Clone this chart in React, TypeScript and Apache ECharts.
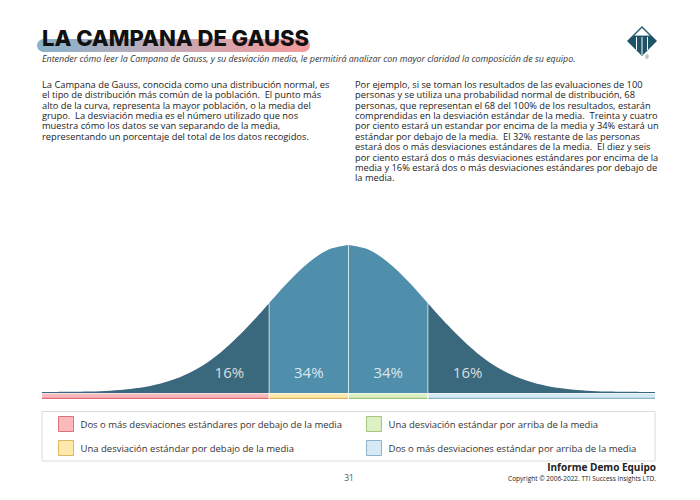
import React, { useEffect, useRef } from "react";
import * as echarts from "echarts";

// ---- data ----
const sigmaX = [-3.86, -3.5, -3.25, -3, -2.75, -2.5, -2.25, -2, -1.75, -1.5, -1.25, -1, -0.75, -0.5, -0.25, 0,
  0.25, 0.5, 0.75, 1, 1.25, 1.5, 1.75, 2, 2.25, 2.5, 2.75, 3, 3.25, 3.5, 3.86];
const curveY = [0.006, 0.008, 0.01, 0.016, 0.027, 0.047, 0.082, 0.137, 0.217, 0.326, 0.459, 0.607, 0.755, 0.882, 0.969, 1.0,
  0.969, 0.882, 0.755, 0.607, 0.459, 0.326, 0.217, 0.137, 0.082, 0.047, 0.027, 0.016, 0.01, 0.008, 0.006];
const bandEdges = [-3.86, -1, 0, 1, 3.86];
const bandPercents = ["16%", "34%", "34%", "16%"];
const bandLabelPos = [-1.5, -0.5, 0.5, 1.5];
const bandNames = [
  "Dos o más desviaciones estándares por debajo de la media",
  "Una desviación estándar por debajo de la media",
  "Una desviación estándar por arriba de la media",
  "Dos o más desviaciones estándar por arriba de la media",
];
const bandFill = ["#fbb9bb", "#fde9a9", "#ddefc4", "#d6e9f4"];
const bandBorder = ["#e0707a", "#d9b862", "#a6c67c", "#8fb3c9"];
const curveColors = ["#3a687c", "#508fac", "#508fac", "#3a687c"];

const leftPara = [
  "La Campana de Gauss, conocida como una distribución normal, es",
  "el tipo de distribución más común de la población.  El punto más",
  "alto de la curva, representa la mayor población, o la media del",
  "grupo.  La desviación media es el número utilizado que nos",
  "muestra cómo los datos se van separando de la media,",
  "representando un porcentaje del total de los datos recogidos.",
];
const rightPara = [
  "Por ejemplo, si se toman los resultados de las evaluaciones de 100",
  "personas y se utiliza una probabilidad normal de distribución, 68",
  "personas, que representan el 68 del 100% de los resultados, estarán",
  "comprendidas en la desviación estándar de la media.  Treinta y cuatro",
  "por ciento estará un estandar por encima de la media y 34% estará un",
  "estándar por debajo de la media.  El 32% restante de las personas",
  "estará dos o más desviaciones estándares de la media.  El diez y seis",
  "por ciento estará dos o más desviaciones estándares por encima de la",
  "media y 16% estará dos o más desviaciones estándares por debajo de",
  "la media.",
];

const FONT = "'Open Sans', 'Noto Sans', sans-serif";

export default function App() {
  const ref = useRef<HTMLDivElement>(null);
  useEffect(() => {
    if (!ref.current) return;
    const chart = echarts.init(ref.current, undefined, { renderer: "svg" });

    const pts = sigmaX.map((x, i) => [x, curveY[i]] as [number, number]);
    const segSeries = [0, 1, 2, 3].map((k) => {
      const lo = bandEdges[k], hi = bandEdges[k + 1];
      return {
        type: "line",
        xAxisIndex: 0,
        yAxisIndex: 0,
        smooth: 0.35,
        showSymbol: false,
        silent: true,
        lineStyle: { width: 0 },
        areaStyle: { color: curveColors[k], opacity: 1 },
        data: pts.filter((p) => p[0] >= lo - 1e-9 && p[0] <= hi + 1e-9),
      };
    });
    const dividers = [-1, 0, 1].map((d) => ({
      type: "line",
      xAxisIndex: 0,
      yAxisIndex: 0,
      showSymbol: false,
      silent: true,
      lineStyle: { width: 1, color: "rgba(235,243,247,0.75)" },
      data: [[d, 0], [d, curveY[sigmaX.indexOf(d)]]],
      z: 3,
    }));
    const labels = {
      type: "scatter",
      xAxisIndex: 0,
      yAxisIndex: 0,
      symbolSize: 1,
      itemStyle: { color: "transparent" },
      z: 4,
      label: {
        show: true,
        position: "inside",
        formatter: (p: any) => p.name,
        color: "#ffffff",
        fontSize: 15,
        fontFamily: FONT,
      },
      data: bandLabelPos.map((x, i) => ({ name: bandPercents[i], value: [x, 0.14] })),
    };
    const strips = [0, 1, 2, 3].map((k) => ({
      type: "custom",
      name: bandNames[k],
      xAxisIndex: 1,
      yAxisIndex: 1,
      itemStyle: { color: bandFill[k], borderColor: bandBorder[k], borderWidth: 1 },
      renderItem: (params: any, api: any) => {
        const a = api.coord([api.value(0), 1]);
        const b = api.coord([api.value(1), 0]);
        const x0 = a[0] + (k === 0 ? 0 : 0.5);
        const x1 = b[0] - (k === 3 ? 0 : 0.5);
        return {
          type: "group",
          children: [
            { type: "rect", shape: { x: x0, y: a[1], width: x1 - x0, height: b[1] - a[1] }, style: { fill: bandFill[k] } },
            { type: "line", shape: { x1: x0, y1: a[1] + 0.5, x2: x1, y2: a[1] + 0.5 }, style: { stroke: "rgba(255,255,255,0.6)", lineWidth: 1 } },
            { type: "line", shape: { x1: x0, y1: b[1] - 0.6, x2: x1, y2: b[1] - 0.6 }, style: { stroke: bandBorder[k], lineWidth: 1.2 } },
          ],
        };
      },
      data: [[bandEdges[k], bandEdges[k + 1]]],
    }));

    const legendCommon = {
      orient: "vertical",
      itemWidth: 15,
      itemHeight: 15,
      itemGap: 8,
      padding: 0,
      icon: "rect",
      selectedMode: false,
      textStyle: { fontSize: 9.5, color: "#333", fontFamily: FONT, padding: [0, 0, 0, 2] },
    };
    const legendData = (ks: number[]) =>
      ks.map((k) => ({ name: bandNames[k], itemStyle: { color: bandFill[k], borderColor: bandBorder[k], borderWidth: 1 } }));

    chart.setOption({
      animation: false,
      grid: [
        { left: 42, right: 45, top: 245, bottom: 107 },
        { left: 42, right: 45, top: 393, height: 6 },
      ],
      xAxis: [
        { type: "value", min: -3.86, max: 3.86, show: false, gridIndex: 0 },
        { type: "value", min: -3.86, max: 3.86, show: false, gridIndex: 1 },
      ],
      yAxis: [
        { type: "value", min: 0, max: 1, show: false, gridIndex: 0 },
        { type: "value", min: 0, max: 1, show: false, gridIndex: 1 },
      ],
      legend: [
        { ...legendCommon, left: 58, top: 416, data: legendData([0, 1]) },
        { ...legendCommon, left: 366, top: 416, data: legendData([2, 3]) },
      ],
      graphic: [
        {
          type: "rect",
          shape: { x: 37, y: 39, width: 273, height: 13, r: 6.5 },
          style: {
            fill: new echarts.graphic.LinearGradient(0, 0, 1, 0, [
              { offset: 0, color: "#86b3cb" },
              { offset: 0.5, color: "#c7a9b3" },
              { offset: 1, color: "#f59a9a" },
            ]),
          },
        },
        {
          type: "text",
          x: 42,
          y: 38,
          style: { text: "LA CAMPANA DE GAUSS", font: "800 22px Inter, 'Open Sans', sans-serif", fill: "#111", verticalAlign: "middle" },
        },
        {
          type: "text",
          x: 42,
          y: 58,
          style: {
            text: "Entender cómo leer la Campana de Gauss, y su desviación media, le permitirá analizar con mayor claridad la composición de su equipo.",
            font: "italic 8.9px " + FONT,
            fill: "#333",
            verticalAlign: "middle",
          },
        },
        {
          type: "text",
          x: 42,
          y: 79,
          style: { text: leftPara.join("\n"), font: "9.3px " + FONT, lineHeight: 10.4, fill: "#222" },
        },
        {
          type: "text",
          x: 355,
          y: 79,
          style: { text: rightPara.join("\n"), font: "9.3px " + FONT, lineHeight: 10.4, fill: "#222" },
        },
        // logo
        {
          type: "group",
          children: [
            { type: "polygon", shape: { points: [[642, 26], [657, 41], [642, 56], [627, 41]] }, style: { fill: "#1f5468" } },
            { type: "polygon", shape: { points: [[642, 27.5], [633.5, 36], [650.5, 36]] }, style: { fill: "#ffffff", stroke: "#1f5468", lineWidth: 0.8 } },
            { type: "line", shape: { x1: 636.5, y1: 37, x2: 636.5, y2: 50 }, style: { stroke: "#ffffff", lineWidth: 1 } },
            { type: "line", shape: { x1: 642, y1: 37, x2: 642, y2: 55 }, style: { stroke: "#ffffff", lineWidth: 1 } },
            { type: "line", shape: { x1: 647.5, y1: 37, x2: 647.5, y2: 50 }, style: { stroke: "#ffffff", lineWidth: 1 } },
            { type: "text", x: 645, y: 54, style: { text: "®", font: "5px sans-serif", fill: "#1f5468" } },
          ],
        },
        // legend box
        {
          type: "rect",
          shape: { x: 42, y: 411.5, width: 613, height: 49.5 },
          style: { fill: "none", stroke: "#dcdcdc", lineWidth: 1 },
          z: -1,
        },
        {
          type: "text",
          x: 656,
          y: 467,
          style: { text: "Informe Demo Equipo", font: "bold 10px " + FONT, fill: "#222", align: "right", verticalAlign: "middle" },
        },
        {
          type: "text",
          x: 656,
          y: 478.5,
          style: { text: "Copyright © 2006-2022. TTI Success Insights LTD.", font: "6.5px " + FONT, fill: "#222", align: "right", verticalAlign: "middle" },
        },
        {
          type: "text",
          x: 349,
          y: 477.5,
          style: { text: "31", font: "8.5px " + FONT, fill: "#555", align: "center", verticalAlign: "middle" },
        },
      ],
      series: [...segSeries, ...dividers, labels, ...strips],
    });
    return () => chart.dispose();
  }, []);
  return <div ref={ref} style={{ width: 700, height: 500, margin: -8, background: "#fff" }} />;
}
